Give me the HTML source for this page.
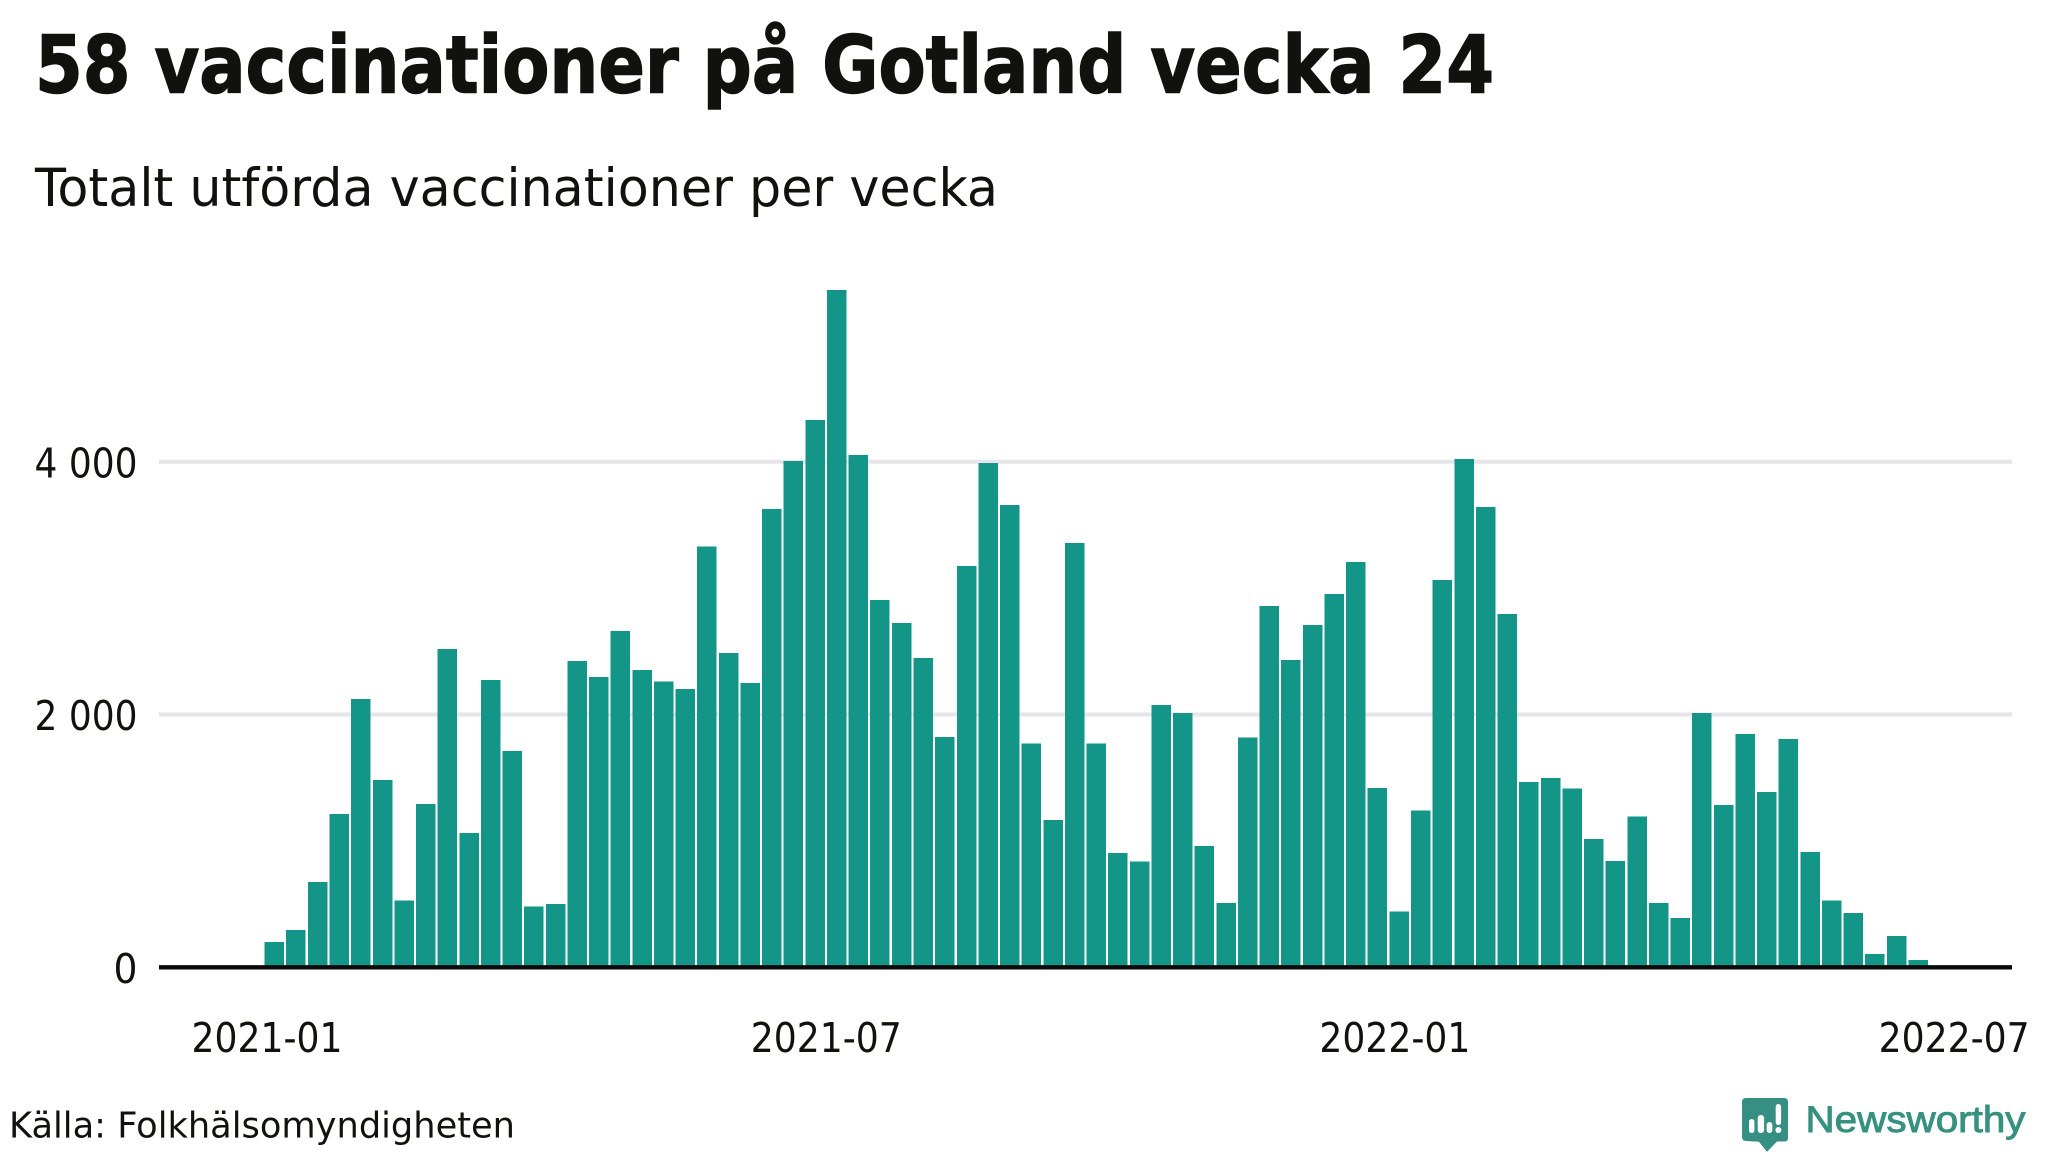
<!DOCTYPE html>
<html lang="sv">
<head>
<meta charset="utf-8">
<title>58 vaccinationer på Gotland vecka 24</title>
<style>
  html, body { margin: 0; padding: 0; background: #ffffff; }
  body { width: 2048px; height: 1152px; overflow: hidden; }
  svg { display: block; }
  text { font-family: "DejaVu Sans", "Liberation Sans", sans-serif; fill: #11120d; }
</style>
</head>
<body>
<svg id="chart" xmlns="http://www.w3.org/2000/svg" width="2048" height="1152" viewBox="0 0 2048 1152">
  <rect x="0" y="0" width="2048" height="1152" fill="#ffffff"/>
  <text x="35" y="92.5" font-size="79" font-weight="700" textLength="1459" lengthAdjust="spacingAndGlyphs" stroke="#11120d" stroke-width="1.4">58 vaccinationer på Gotland vecka 24</text>
  <text x="35" y="206" font-size="52.5" textLength="963" lengthAdjust="spacingAndGlyphs">Totalt utförda vaccinationer per vecka</text>
  <g id="grid"></g>
  <g id="bars"></g>
  <line x1="159" x2="2012" y1="967.3" y2="967.3" stroke="#0a0a0a" stroke-width="4.4"/>
  <g id="y-labels"></g>
  <g id="x-labels"></g>
  <text x="9" y="1137.6" font-size="35.5" textLength="506" lengthAdjust="spacingAndGlyphs">Källa: Folkhälsomyndigheten</text>
  <g>
    <path d="M1746 1098 H1784 Q1788 1098 1788 1102 V1138 Q1788 1141.5 1784.5 1141.5 H1777 L1767 1151.7 L1759 1141.8 L1746 1141 Q1742 1140.5 1742 1137 V1102 Q1742 1098 1746 1098 Z" fill="#358f83"/>
    <rect x="1749" y="1119" width="5.4" height="14" rx="2.7" fill="#ffffff"/>
    <rect x="1757.7" y="1115" width="6.4" height="18" rx="3" fill="#ffffff"/>
    <rect x="1766.7" y="1122" width="5.6" height="11" rx="2.8" fill="#ffffff"/>
    <rect x="1775.7" y="1104" width="5.4" height="21" rx="2.7" fill="#ffffff"/>
    <circle cx="1778.4" cy="1130" r="3" fill="#ffffff"/>
    <text x="1805.5" y="1132" font-size="37.5" textLength="220" lengthAdjust="spacingAndGlyphs" stroke="#36917f" stroke-width="0.9" style="font-family:'Liberation Sans',sans-serif;fill:#36917f">Newsworthy</text>
  </g>
</svg>
<script>
const weeks = [
  "2020-W53",
  "2021-W01","2021-W02","2021-W03","2021-W04","2021-W05","2021-W06","2021-W07","2021-W08","2021-W09","2021-W10",
  "2021-W11","2021-W12","2021-W13","2021-W14","2021-W15","2021-W16","2021-W17","2021-W18","2021-W19","2021-W20",
  "2021-W21","2021-W22","2021-W23","2021-W24","2021-W25","2021-W26","2021-W27","2021-W28","2021-W29","2021-W30",
  "2021-W31","2021-W32","2021-W33","2021-W34","2021-W35","2021-W36","2021-W37","2021-W38","2021-W39","2021-W40",
  "2021-W41","2021-W42","2021-W43","2021-W44","2021-W45","2021-W46","2021-W47","2021-W48","2021-W49","2021-W50",
  "2021-W51","2021-W52",
  "2022-W01","2022-W02","2022-W03","2022-W04","2022-W05","2022-W06","2022-W07","2022-W08","2022-W09","2022-W10",
  "2022-W11","2022-W12","2022-W13","2022-W14","2022-W15","2022-W16","2022-W17","2022-W18","2022-W19","2022-W20",
  "2022-W21","2022-W22","2022-W23","2022-W24"
];
const vaccinations = [
  200, 294, 676, 1213, 2125, 1482, 527, 1293, 2518, 1064,
  2274, 1711, 480, 501, 2423, 2296, 2663, 2354, 2260, 2202,
  3328, 2489, 2249, 3626, 4007, 4331, 5359, 4054, 2906, 2725,
  2449, 1824, 3175, 3989, 3658, 1769, 1166, 3357, 1769, 905,
  836, 2074, 2013, 959, 509, 1817, 2859, 2431, 2710, 2954,
  3208, 1420, 440, 1239, 3066, 4022, 3644, 2797, 1468, 1497,
  1413, 1017, 843, 1192, 509, 392, 2013, 1286, 1846, 1388,
  1806, 912, 527, 429, 105, 247, 58
];
const yTicks = [0, 2000, 4000];
const yTickLabels = ["0", "2 000", "4 000"];
const xTickDates = ["2021-01-01", "2021-07-01", "2022-01-01", "2022-07-01"];
const xTickLabels = ["2021-01", "2021-07", "2022-01", "2022-07"];

const SVG_NS = "http://www.w3.org/2000/svg";

function yScale(value) {
  return 967.3 - value * (505.5 / 4000);
}
function xBand(index) {
  return 264.6 + index * 21.63;
}
function xTime(dateString) {
  const days = (Date.parse(dateString) - Date.parse("2021-01-01")) / 86400000;
  return 267 + days * 3.09;
}

const gridGroup = document.getElementById("grid");
const barsGroup = document.getElementById("bars");
const yLabelGroup = document.getElementById("y-labels");
const xLabelGroup = document.getElementById("x-labels");

yTicks.forEach(function (tick, i) {
  if (tick !== 0) {
    const gridLine = document.createElementNS(SVG_NS, "line");
    
    
    gridLine.setAttribute("x1", 159);
    gridLine.setAttribute("x2", 2012);
    gridLine.setAttribute("y1", yScale(tick));
    gridLine.setAttribute("y2", yScale(tick));
    gridLine.setAttribute("stroke", "#e5e5ea");
    gridLine.setAttribute("stroke-width", 4);
    gridGroup.appendChild(gridLine);
  }
  const label = document.createElementNS(SVG_NS, "text");
  
  
  label.setAttribute("x", 137.5);
  label.setAttribute("y", yScale(tick) + 15.5);
  label.setAttribute("font-size", 41);
  label.setAttribute("text-anchor", "end");
  label.setAttribute("textLength", yTickLabels[i].length === 1 ? 24 : 103);
  label.setAttribute("lengthAdjust", "spacingAndGlyphs");
  label.textContent = yTickLabels[i];
  yLabelGroup.appendChild(label);
});

vaccinations.forEach(function (value, i) {
  const bar = document.createElementNS(SVG_NS, "rect");
  
  
  bar.setAttribute("x", xBand(i));
  bar.setAttribute("y", yScale(value));
  bar.setAttribute("width", 19.5);
  bar.setAttribute("height", yScale(0) - yScale(value));
  bar.setAttribute("fill", "#139688");
  bar.setAttribute("shape-rendering", "crispEdges");
  const tip = document.createElementNS(SVG_NS, "title");
  tip.textContent = weeks[i] + ": " + value;
  bar.appendChild(tip);
  barsGroup.appendChild(bar);
});

xTickDates.forEach(function (date, i) {
  const label = document.createElementNS(SVG_NS, "text");
  
  
  label.setAttribute("x", xTime(date));
  label.setAttribute("y", 1052);
  label.setAttribute("font-size", 41);
  label.setAttribute("text-anchor", "middle");
  label.setAttribute("textLength", 151);
  label.setAttribute("lengthAdjust", "spacingAndGlyphs");
  label.textContent = xTickLabels[i];
  xLabelGroup.appendChild(label);
});
</script>
</body>
</html>
